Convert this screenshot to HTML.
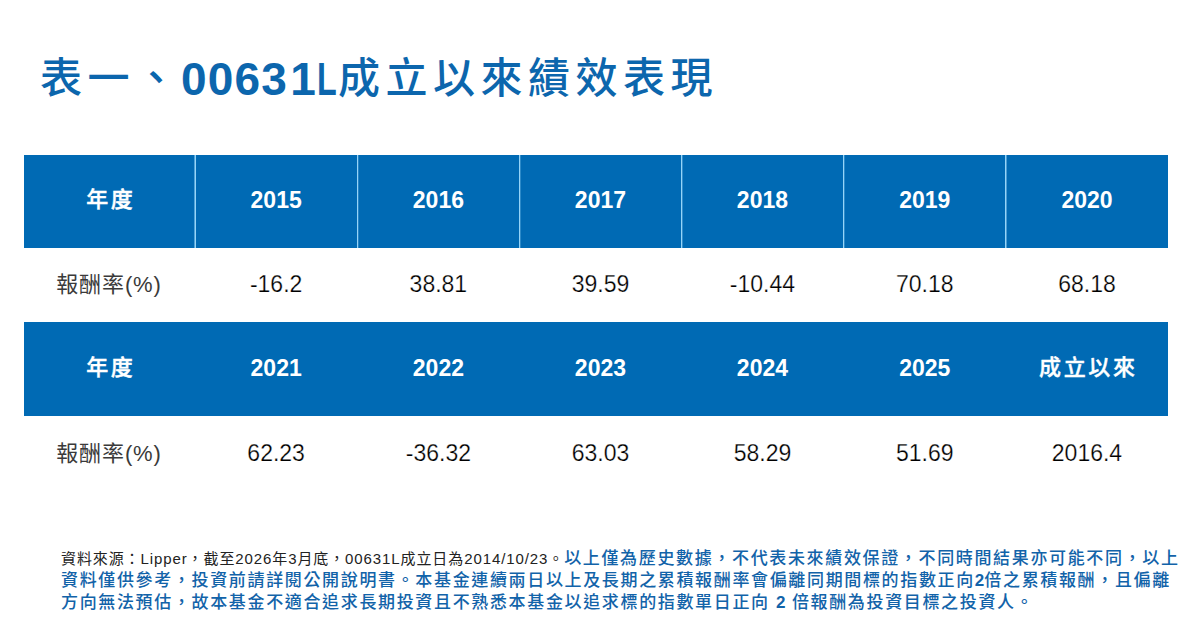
<!DOCTYPE html>
<html lang="zh-Hant">
<head>
<meta charset="utf-8">
<style>
*{margin:0;padding:0;box-sizing:border-box;}
html,body{width:1200px;height:628px;background:#fff;overflow:hidden;}
body{position:relative;font-family:"Liberation Sans","Noto Sans CJK TC",sans-serif;}
.title{position:absolute;left:40px;top:50px;font-size:44px;font-weight:700;color:#0c66ad;white-space:nowrap;line-height:56px;}
.title .cj{font-weight:500;letter-spacing:5.5px;font-size:42px;position:relative;top:-1px;}
.title .num{letter-spacing:1.2px;font-size:46px;position:relative;top:0.5px;margin-left:-1.5px;}
.title .one{margin-left:2px;letter-spacing:1px;}
.title .ll{display:inline-block;transform:scaleX(0.7);transform-origin:0 0;margin-right:-8px;}
.hdr{position:absolute;left:24px;width:1144px;background:#006ab4;}
.h1{top:155px;height:93px;}
.h2{top:322px;height:94px;}
.vl{position:absolute;top:155px;height:93px;width:1px;background:#96d4f7;}
.c{position:absolute;display:flex;align-items:center;justify-content:center;white-space:nowrap;}
.hc{color:#fff;font-weight:700;font-size:23px;padding-bottom:2px;}
.hcj{font-size:22px;font-weight:500;letter-spacing:2.6px;padding-bottom:8px;padding-left:2.6px;-webkit-text-stroke:0.4px #fff;}
.dc{color:#000;font-size:23px;padding-bottom:2px;-webkit-text-stroke:0.25px #fff;}
.lab{color:#3a3a3a;font-size:22px;padding-bottom:8px;letter-spacing:0.9px;padding-right:1px;}
.n1,.n2,.n3{position:absolute;left:61px;white-space:nowrap;line-height:22px;height:22px;}
.n1{top:548px;}.n2{top:570px;}.n3{top:592px;}
.k{color:#222;font-size:15px;letter-spacing:0.9px;font-weight:400;}
.b{color:#1263a9;font-weight:500;font-size:17px;letter-spacing:1.65px;}
.d{font-weight:700;letter-spacing:0;}
</style>
</head>
<body>
<div class="title"><span class="cj">表一、</span><span class="num">0063<span class="one">1</span><span class="ll">L</span></span><span class="cj">成立以來績效表現</span></div>

<div class="hdr h1"></div>
<div class="hdr h2"></div>
<div class="vl" style="left:195px;box-shadow:-1px 0 0 rgba(150,212,247,0.55)"></div>
<div class="vl" style="left:357px;box-shadow:1px 0 0 rgba(150,212,247,0.25)"></div>
<div class="vl" style="left:519px;box-shadow:1px 0 0 rgba(150,212,247,0.3)"></div>
<div class="vl" style="left:681px;box-shadow:1px 0 0 rgba(150,212,247,0.35)"></div>
<div class="vl" style="left:843px;box-shadow:1px 0 0 rgba(150,212,247,0.3)"></div>
<div class="vl" style="left:1005px;box-shadow:1px 0 0 rgba(150,212,247,0.5)"></div>

<!-- header row 1 -->
<div class="c hc hcj" style="left:24px;width:171px;top:155px;height:93px;padding-bottom:10px">年度</div>
<div class="c hc" style="left:195px;width:162.3px;top:155px;height:93px">2015</div>
<div class="c hc" style="left:357.3px;width:162.2px;top:155px;height:93px">2016</div>
<div class="c hc" style="left:519.5px;width:161.9px;top:155px;height:93px">2017</div>
<div class="c hc" style="left:681.4px;width:162.1px;top:155px;height:93px">2018</div>
<div class="c hc" style="left:843.5px;width:162.5px;top:155px;height:93px">2019</div>
<div class="c hc" style="left:1006px;width:162px;top:155px;height:93px">2020</div>

<!-- data row 1 -->
<div class="c lab" style="left:24px;width:171px;top:248px;height:74px;padding-bottom:7px">報酬率(%)</div>
<div class="c dc" style="left:195px;width:162.3px;top:248px;height:74px">-16.2</div>
<div class="c dc" style="left:357.3px;width:162.2px;top:248px;height:74px">38.81</div>
<div class="c dc" style="left:519.5px;width:161.9px;top:248px;height:74px">39.59</div>
<div class="c dc" style="left:681.4px;width:162.1px;top:248px;height:74px">-10.44</div>
<div class="c dc" style="left:843.5px;width:162.5px;top:248px;height:74px">70.18</div>
<div class="c dc" style="left:1006px;width:162px;top:248px;height:74px">68.18</div>

<!-- header row 2 -->
<div class="c hc hcj" style="left:24px;width:171px;top:322px;height:94px">年度</div>
<div class="c hc" style="left:195px;width:162.3px;top:322px;height:94px">2021</div>
<div class="c hc" style="left:357.3px;width:162.2px;top:322px;height:94px">2022</div>
<div class="c hc" style="left:519.5px;width:161.9px;top:322px;height:94px">2023</div>
<div class="c hc" style="left:681.4px;width:162.1px;top:322px;height:94px">2024</div>
<div class="c hc" style="left:843.5px;width:162.5px;top:322px;height:94px">2025</div>
<div class="c hc hcj" style="left:1006px;width:162px;top:322px;height:94px">成立以來</div>

<!-- data row 2 -->
<div class="c lab" style="left:24px;width:171px;top:416px;height:74px;padding-bottom:5px">報酬率(%)</div>
<div class="c dc" style="left:195px;width:162.3px;top:416px;height:74px;padding-bottom:0">62.23</div>
<div class="c dc" style="left:357.3px;width:162.2px;top:416px;height:74px;padding-bottom:0">-36.32</div>
<div class="c dc" style="left:519.5px;width:161.9px;top:416px;height:74px;padding-bottom:0">63.03</div>
<div class="c dc" style="left:681.4px;width:162.1px;top:416px;height:74px;padding-bottom:0">58.29</div>
<div class="c dc" style="left:843.5px;width:162.5px;top:416px;height:74px;padding-bottom:0">51.69</div>
<div class="c dc" style="left:1006px;width:162px;top:416px;height:74px;padding-bottom:0">2016.4</div>

<div class="n1"><span class="k">資料來源：Lipper，截至2026年3月底，00631L成立日為2014/10/23。</span><span class="b">以上僅為歷史數據，不代表未來績效保證，不同時間結果亦可能不同，以上</span></div>
<div class="n2 b">資料僅供參考，投資前請詳閱公開說明書。本基金連續兩日以上及長期之累積報酬率會偏離同期間標的指數正向<span class="d">2</span>倍之累積報酬，且偏離</div>
<div class="n3 b">方向無法預估，故本基金不適合追求長期投資且不熟悉本基金以追求標的指數單日正向 <span class="d">2</span> 倍報酬為投資目標之投資人。</div>
</body>
</html>
